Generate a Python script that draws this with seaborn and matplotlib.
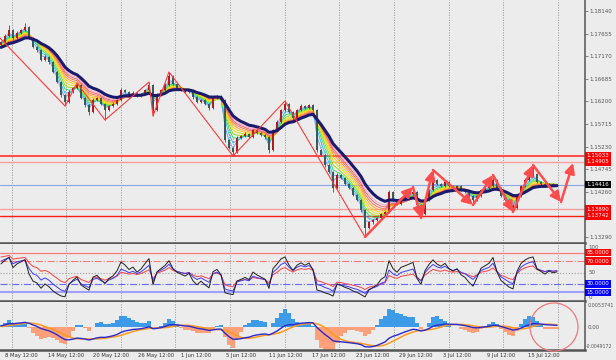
import numpy as np
import pandas as pd
import matplotlib
matplotlib.use("Agg")
import matplotlib.pyplot as plt
import seaborn as sns
from matplotlib.patches import Ellipse

sns.set_theme(style="white")
plt.rcParams["font.family"] = ["DejaVu Sans"]

# ---------------- data ----------------
history_close = [1.17303, 1.17475, 1.17260, 1.17410, 1.17196, 1.17367, 1.17239, 1.17475, 1.17303, 1.17410]

close = [
    1.17475, 1.17603, 1.17732, 1.17561, 1.17668, 1.17732, 1.17797, 1.17561, 1.17367, 1.17303,
    1.17088, 1.17153, 1.17046, 1.16831, 1.16616, 1.16337, 1.16187, 1.16402, 1.16488, 1.16552,
    1.16273, 1.16123, 1.15973, 1.16230, 1.16273, 1.16144, 1.16015, 1.16101, 1.16144, 1.16230,
    1.16445, 1.16402, 1.16337, 1.16380, 1.16316, 1.16359, 1.16445, 1.16552, 1.16015, 1.16337,
    1.16445, 1.16552, 1.16745, 1.16573, 1.16488, 1.16445, 1.16402, 1.16445, 1.16294, 1.16187,
    1.16230, 1.16144, 1.16058, 1.16273, 1.16316, 1.16230, 1.15372, 1.15200, 1.15114, 1.15415,
    1.15457, 1.15500, 1.15436, 1.15586, 1.15522, 1.15479, 1.15436, 1.15157, 1.15586, 1.15758,
    1.16015, 1.16144, 1.15973, 1.15844, 1.16015, 1.16101, 1.16058, 1.16123, 1.16015, 1.15157,
    1.15050, 1.14835, 1.14685, 1.14342, 1.14621, 1.14556, 1.14427, 1.14342, 1.14191, 1.14084,
    1.13869, 1.13483, 1.13612, 1.13655, 1.13698, 1.13784, 1.13827, 1.14256, 1.14084, 1.13998,
    1.14127, 1.14170, 1.14213, 1.14256, 1.13977, 1.13784, 1.14084, 1.14299, 1.14513, 1.14427,
    1.14384, 1.14470, 1.14384, 1.14342, 1.14384, 1.14299, 1.14256, 1.14170, 1.14084, 1.14170,
    1.14299, 1.14342, 1.14384, 1.14513, 1.14342, 1.14170, 1.14084, 1.13977, 1.13912, 1.14170,
    1.14384, 1.14513, 1.14599, 1.14642, 1.14470, 1.14427, 1.14384, 1.14427, 1.14406, 1.14416,
]

wick_up = [
    3, 4, 11, 3, 4, 3, 8, 3, 2, 3,
    3, 4, 3, 2, 3, 2, 3, 4, 3, 4,
    2, 3, 2, 4, 3, 2, 3, 3, 4, 3,
    4, 3, 3, 5, 2, 3, 3, 6, 3, 4,
    3, 4, 9, 3, 2, 3, 4, 3, 2, 3,
    3, 2, 3, 4, 3, 3, 2, 3, 2, 4,
    3, 4, 3, 3, 2, 3, 3, 2, 3, 4,
    3, 7, 3, 2, 3, 4, 3, 3, 2, 2,
    3, 2, 3, 2, 4, 3, 2, 3, 2, 3,
    2, 3, 3, 2, 3, 3, 2, 4, 3, 2,
    3, 3, 2, 11, 3, 2, 3, 3, 22, 3,
    3, 4, 3, 2, 3, 3, 2, 3, 2, 3,
    3, 3, 3, 11, 2, 3, 2, 3, 2, 3,
    3, 4, 3, 19, 3, 2, 3, 3, 2, 2,
]
wick_dn = [
    3, 3, 3, 4, 3, 2, 3, 3, 3, 4,
    3, 3, 4, 3, 3, 4, 9, 3, 3, 3,
    3, 4, 7, 3, 3, 3, 21, 3, 3, 3,
    3, 3, 4, 3, 3, 3, 3, 3, 13, 3,
    3, 3, 3, 3, 4, 3, 3, 3, 4, 3,
    3, 3, 5, 3, 3, 3, 4, 3, 9, 3,
    3, 3, 3, 3, 3, 3, 4, 6, 3, 3,
    3, 3, 3, 4, 3, 3, 3, 3, 3, 4,
    3, 4, 3, 8, 3, 3, 3, 3, 3, 3,
    4, 19, 3, 4, 3, 3, 3, 3, 3, 3,
    3, 3, 3, 3, 3, 9, 3, 3, 3, 3,
    3, 3, 3, 3, 3, 3, 3, 3, 11, 3,
    3, 3, 3, 3, 3, 3, 3, 3, 9, 3,
    3, 3, 3, 3, 3, 3, 3, 3, 3, 3,
]

zz_thin_idx = [-1, 16, 19, 26, 37, 38, 42, 58, 71, 91]
zz_thin_price = [1.17625, 1.16101, 1.16595, 1.15801, 1.16616, 1.15887, 1.16831, 1.15028, 1.16209, 1.13290]
zz_arrow_idx = [91, 103, 105, 108, 118, 123, 128, 133, 140, 143]
zz_arrow_price = [1.13290, 1.14363, 1.13698, 1.14728, 1.13977, 1.14621, 1.13827, 1.14835, 1.14041, 1.14878]

level_prices = [1.15033, 1.14905, 1.14416, 1.13890, 1.13742]
level_labels = ["1.15033", "1.14905", "1.14416", "1.13890", "1.13742"]
price_ticks = [1.18140, 1.17655, 1.17170, 1.16685, 1.16200, 1.15715, 1.15230, 1.14745, 1.14260, 1.13290]

date_labels = ["8 May 12:00", "14 May 12:00", "20 May 12:00", "26 May 12:00", "1 Jun 12:00",
               "5 Jun 12:00", "11 Jun 12:00", "17 Jun 12:00", "23 Jun 12:00", "29 Jun 12:00",
               "3 Jul 12:00", "9 Jul 12:00", "15 Jul 12:00"]
date_pos = [1.0, 11.75, 23.0, 34.25, 45.0, 56.25, 67.0, 77.75, 88.75, 99.5, 110.5, 121.5, 131.75]
grid_pos = [2.7, 16.25, 29.9, 43.5, 57.2, 71.0, 84.5, 98.3, 112.0, 125.5, 139.3]

# ---------------- derived ----------------
n_hist = len(history_close)
full = pd.Series(history_close + close)
c = np.array(close)
o = np.array([history_close[-1]] + close[:-1])
hi = np.maximum(o, c) + np.array(wick_up) * 0.0001
lo = np.minimum(o, c) - np.array(wick_dn) * 0.0001
idx = np.arange(len(close))


def ema(p):
    return full.ewm(span=p, adjust=False).mean().values[n_hist:]


def rsi(p):
    d = full.diff()
    g = d.clip(lower=0).ewm(alpha=1 / p, adjust=False).mean()
    l = (-d.clip(upper=0)).ewm(alpha=1 / p, adjust=False).mean()
    return (100 - 100 / (1 + g / l)).values[n_hist:]


macd_full = full.ewm(span=8, adjust=False).mean() - full.ewm(span=16, adjust=False).mean()
sig_full = macd_full.rolling(5, min_periods=1).mean()
macd = macd_full.values[n_hist:]
sig = sig_full.values[n_hist:]
hist = 3.6 * (macd - sig)

# ---------------- figure ----------------
BG = "#ececec"
W, H = 616, 360
fig = plt.figure(figsize=(6.16, 3.6), dpi=100)
fig.patch.set_facecolor(BG)


def box(x0, y0, x1, y1):
    return [x0 / W, 1 - y1 / H, (x1 - x0) / W, (y1 - y0) / H]


ax = fig.add_axes(box(0, 0, 585, 243))
ax_o = fig.add_axes(box(0, 244, 585, 301))
ax_m = fig.add_axes(box(0, 302, 585, 350))

for a in (ax, ax_o, ax_m):
    a.set_facecolor(BG)
    a.set_xlim(-0.25, 146.0)
    for s in ("top", "left"):
        a.spines[s].set_visible(False)
    a.spines["right"].set_color("#606060")
    a.spines["right"].set_linewidth(1.2)
    a.spines["bottom"].set_color("#555555")
    a.spines["bottom"].set_linewidth(1.8)
    a.yaxis.tick_right()
    a.tick_params(axis="y", labelsize=4, length=2, pad=1, colors="#555555", width=0.5)
    for g in grid_pos:
        a.axvline(g, color="#9a9a9a", lw=0.6, ls=(0, (1.5, 1.5)), zorder=0.5)
    a.set_xticks([])

# ---- main panel ----
ax.set_ylim(1.13161, 1.18376)
ax.set_yticks(price_ticks)
ax.set_yticklabels([f"{v:.5f}" for v in price_ticks])

level_styles = [("#ff4a4a", 1.4), ("#ff9c9c", 1.0), ("#8aa4e6", 0.8), ("#ffa0a0", 1.0), ("#ff1a1a", 1.0)]
for v, (col, lw) in zip(level_prices, level_styles):
    ax.axhline(v, color=col, lw=lw, zorder=1)

# rainbow fan
fan_periods = [2, 3, 4, 5, 6, 7, 8, 9, 10, 11]
fan_colors = ["#6f9be8", "#29b6f6", "#22dd66", "#8cdc00", "#e2e000", "#ffc800", "#ff9a20", "#ff6a40", "#ff5070", "#ff9fb8"]
e4 = ema(4)
ax.vlines(idx, np.minimum(c, e4), np.maximum(c, e4), colors="#7aaae8", linestyles=":", lw=0.7, zorder=1.5)
for p, col in zip(fan_periods, fan_colors):
    sns.lineplot(x=idx, y=ema(p), ax=ax, color=col, lw=0.6, zorder=2, legend=False)

# candles
up = c >= o
ccol = np.where(up, "#b51a1a", "#3d5a5a")
ax.vlines(idx, lo, hi, colors=ccol, lw=0.6, zorder=3)
ax.bar(idx, np.maximum(np.abs(c - o), 0.00006), bottom=np.minimum(o, c), width=0.72,
       color=ccol, edgecolor="none", zorder=3.2)

sns.lineplot(x=idx, y=ema(13), ax=ax, color="#1b1b6e", lw=2.2, zorder=4, legend=False)

# zigzag
sns.lineplot(x=zz_thin_idx, y=zz_thin_price, ax=ax, color="#ff3b3b", lw=0.8, zorder=5,
             sort=False, legend=False)
for i in range(len(zz_arrow_idx) - 1):
    ax.annotate("", xy=(zz_arrow_idx[i + 1], zz_arrow_price[i + 1]),
                xytext=(zz_arrow_idx[i], zz_arrow_price[i]),
                arrowprops=dict(arrowstyle="-|>,head_length=0.5,head_width=0.25",
                                color="#ff4d4d", lw=1.8, shrinkA=0, shrinkB=0),
                zorder=6)

level_box = ["#ff0000", "#ff0000", "#000000", "#ff0000", "#ff0000"]
for v, s, col in zip(level_prices, level_labels, level_box):
    ax.text(1.003, v, s, transform=ax.get_yaxis_transform(), ha="left", va="center",
            fontsize=4, color="white", clip_on=False, zorder=10,
            bbox=dict(boxstyle="square,pad=0.25", fc=col, ec="none"))

# ---- oscillator panel ----
ax_o.set_ylim(0, 100)
ax_o.set_yticks([])
ax_o.axhline(85, color="#ff7a7a", lw=0.9)
ax_o.axhline(70, color="#ff7a7a", lw=0.8, ls="-.")
ax_o.axhline(50, color="#a0a0a0", lw=0.8, ls=":")
ax_o.axhline(30, color="#6a6aff", lw=0.8, ls="-.")
ax_o.axhline(15, color="#a0a0ff", lw=1.5)
sns.lineplot(x=idx, y=rsi(13), ax=ax_o, color="#ff4040", lw=0.7, legend=False)
sns.lineplot(x=idx, y=rsi(8), ax=ax_o, color="#3b3bff", lw=0.7, legend=False)
sns.lineplot(x=idx, y=rsi(5), ax=ax_o, color="#202020", lw=0.7, legend=False)

ytr = ax_o.get_yaxis_transform()
ax_o.text(1.006, 99, "100", transform=ytr, ha="left", va="top", fontsize=4, color="#555555", clip_on=False)
ax_o.text(1.006, 50, "50", transform=ytr, ha="left", va="center", fontsize=4, color="#555555", clip_on=False)
ax_o.text(1.006, 1, "0", transform=ytr, ha="left", va="bottom", fontsize=4, color="#555555", clip_on=False)
for lv, col in zip([85, 70, 30, 15], ["#ff0000", "#ff0000", "#0000ff", "#0000ff"]):
    ax_o.text(1.003, lv, f"{lv:.4f}", transform=ytr, ha="left", va="center", fontsize=4,
              color="white", clip_on=False, zorder=10,
              bbox=dict(boxstyle="square,pad=0.25", fc=col, ec="none"))

# ---- MACD panel ----
ax_m.set_ylim(-0.0049172, 0.0053741)
ax_m.set_yticks([])
pos = np.where(hist > 0, hist, 0)
neg = np.where(hist < 0, hist, 0)
ax_m.bar(idx, pos, width=1.0, color="#3d9be9", edgecolor="none", zorder=1)
ax_m.bar(idx, neg, width=1.0, color="#ffa07a", edgecolor="none", zorder=1)
sns.lineplot(x=idx, y=sig, ax=ax_m, color="#ff9a1a", lw=1.1, zorder=3, legend=False)
sns.lineplot(x=idx, y=macd, ax=ax_m, color="#2a2ad0", lw=1.0, zorder=4, legend=False)
mtr = ax_m.get_yaxis_transform()
ax_m.text(1.005, 0.0052, "0.0053741", transform=mtr, ha="left", va="top", fontsize=3.5, color="#555555", clip_on=False)
ax_m.text(1.005, 0.0, "0.00", transform=mtr, ha="left", va="center", fontsize=4, color="#555555", clip_on=False)
ax_m.text(1.002, -0.0048, "-0.0049172", transform=mtr, ha="left", va="bottom", fontsize=3.3, color="#555555", clip_on=False)

ax_m.set_xticks(date_pos)
ax_m.set_xticklabels(date_labels, ha="left", fontsize=3.8, color="#333333")
ax_m.tick_params(axis="x", length=1.5, pad=1, width=0.5, colors="#555555")
for t in ax_m.get_xticklabels():
    t.set_color("#333333")

fig.add_artist(Ellipse((554 / W, 1 - 327 / H), 48 / W, 48 / H, transform=fig.transFigure,
                       fill=False, ec="#f07a7a", lw=0.9))

fig.savefig("out.png", dpi=100, facecolor=BG)
